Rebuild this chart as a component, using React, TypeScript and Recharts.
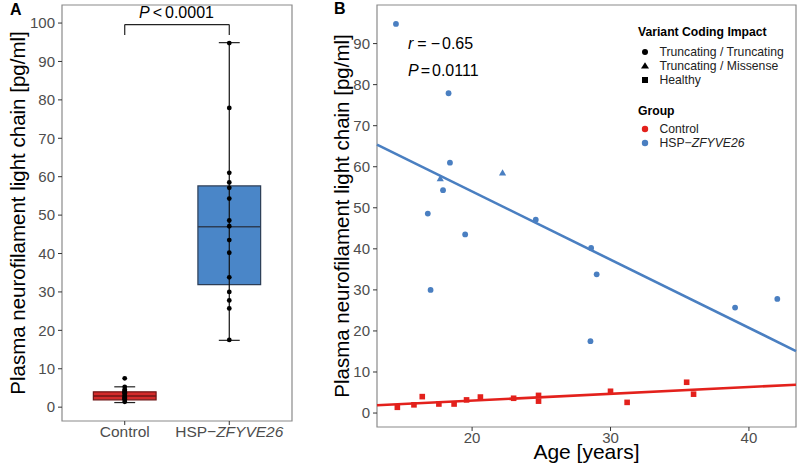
import {
  ComposedChart,
  Scatter,
  XAxis,
  YAxis,
  ReferenceArea,
  ReferenceLine,
} from 'recharts';

// panel A: box stats
const boxGroups = ['Control', 'HSP−ZFYVE26'];
const boxMin = [1.2, 17.4];
const boxQ1 = [1.9, 31.9];
const boxMedian = [2.9, 47.0];
const boxQ3 = [4.0, 57.6];
const boxMax = [5.3, 94.9];
const boxFill = ['#d42b2b', '#4a86c8'];
const boxStroke = ['#6e1717', '#2c3d55'];

// panel B: age vs NfL
const hspCircleAge = [14.5, 18.3, 18.4, 17.9, 16.8, 24.6, 19.5, 17.0, 28.6, 29.0, 28.55, 39.0, 42.05];
const hspCircleNfl = [94.8, 77.9, 61.0, 54.3, 48.6, 47.1, 43.5, 30.0, 40.2, 33.8, 17.5, 25.7, 27.8];
const hspTriangleAge = [17.7, 22.2];
const hspTriangleNfl = [57.1, 58.5];
const controlAge = [14.6, 15.8, 16.4, 17.6, 18.7, 19.6, 20.6, 23.0, 24.8, 24.8, 30.0, 31.2, 35.5, 36.0];
const controlNfl = [1.4, 2.0, 4.0, 2.2, 2.2, 3.2, 3.9, 3.6, 4.3, 2.9, 5.3, 2.6, 7.5, 4.6];

// fitted lines, endpoints at panel edges
const fitAges = [13.13, 43.4];
const hspFit = [65.4, 15.1];
const controlFit = [1.9, 6.9];

const yTicksA = [0, 10, 20, 30, 40, 50, 60, 70, 80, 90, 100];
const yTicksB = [0, 10, 20, 30, 40, 50, 60, 70, 80, 90];
const xTicksB = [20, 30, 40];

const FONT = '"Liberation Sans", Arial, Helvetica, sans-serif';
const RED = '#e3211c';
const BLUE = '#4a7fc1';
const GREY = '#4d4d4d';
const FRAME = '#8a8a8a';

const xDomA: [number, number] = [0.4, 2.6];
const yDomA: [number, number] = [-3.6, 104.7];
const xDomB: [number, number] = [13.13, 43.4];
const yDomB: [number, number] = [-3.4, 99.4];

const pointsA = [
  ...controlNfl.map((v) => ({ x: 1, y: v })),
  ...hspCircleNfl.concat(hspTriangleNfl).map((v) => ({ x: 2, y: v })),
];

const toPts = (xs: number[], ys: number[]) => xs.map((x, i) => ({ x, y: ys[i] }));

const Dot = (r: number, color?: string) => (p: any) => (
  <circle cx={p.cx} cy={p.cy} r={r} fill={color ?? p.fill} />
);
const Tri = (p: any) => {
  const s = 3.6;
  return (
    <polygon
      points={`${p.cx},${p.cy - s} ${p.cx - s},${p.cy + s * 0.75} ${p.cx + s},${p.cy + s * 0.75}`}
      fill={BLUE}
    />
  );
};
const Sq = (p: any) => <rect x={p.cx - 2.8} y={p.cy - 2.8} width={5.6} height={5.6} fill={RED} />;

function YTitle(baselineX: number) {
  return (props: any) => {
    const vb = props.viewBox;
    const cy = vb.y + vb.height / 2;
    return (
      <text
        x={baselineX}
        y={cy}
        transform={`rotate(-90, ${baselineX}, ${cy})`}
        textAnchor="middle"
        fontSize={20.5}
        fontFamily={FONT}
        fill="#000"
      >
        Plasma neurofilament light chain [pg/ml]
      </text>
    );
  };
}

const GroupTick = (p: any) => (
  <text x={p.x} y={p.y} dy="0.71em" textAnchor="middle" fontSize={15.5} fontFamily={FONT} fill={GREY}>
    {p.payload.value === 1 ? (
      boxGroups[0]
    ) : (
      <>
        <tspan>HSP−</tspan>
        <tspan fontStyle="italic">ZFYVE26</tspan>
      </>
    )}
  </text>
);

const tickStyle = { fontSize: 15, fontFamily: FONT, fill: GREY };

function PanelA() {
  return (
    <ComposedChart width={300} height={468} margin={{ top: 5, right: 8, bottom: 0, left: 0 }}>
      <XAxis
        type="number"
        dataKey="x"
        domain={xDomA}
        ticks={[1, 2]}
        allowDataOverflow
        height={47}
        tickSize={4}
        tickMargin={1}
        axisLine={false}
        tickLine={{ stroke: '#333' }}
        tick={GroupTick}
      />
      <YAxis
        type="number"
        dataKey="y"
        domain={yDomA}
        ticks={yTicksA}
        allowDataOverflow
        width={62}
        tickSize={4}
        tickMargin={3}
        axisLine={false}
        tickLine={{ stroke: '#333' }}
        tick={tickStyle}
        label={{ content: YTitle(25) }}
      />
      <ReferenceArea x1={xDomA[0]} x2={xDomA[1]} y1={yDomA[0]} y2={yDomA[1]} fill="none" stroke={FRAME} strokeWidth={1.2} />
      {boxGroups.map((g, i) => {
        const c = i + 1;
        return [
          <ReferenceArea key={g + 'box'} x1={c - 0.3} x2={c + 0.3} y1={boxQ1[i]} y2={boxQ3[i]} fill={boxFill[i]} fillOpacity={1} stroke={boxStroke[i]} strokeWidth={1.2} />,
          <ReferenceLine key={g + 'med'} segment={[{ x: c - 0.3, y: boxMedian[i] }, { x: c + 0.3, y: boxMedian[i] }]} stroke={boxStroke[i]} strokeWidth={1.5} />,
          <ReferenceLine key={g + 'wh'} segment={[{ x: c, y: boxMin[i] }, { x: c, y: boxMax[i] }]} stroke="#111" strokeWidth={1.2} />,
          <ReferenceLine key={g + 'cmax'} segment={[{ x: c - 0.1, y: boxMax[i] }, { x: c + 0.1, y: boxMax[i] }]} stroke="#222" strokeWidth={1.2} />,
          <ReferenceLine key={g + 'cmin'} segment={[{ x: c - 0.1, y: boxMin[i] }, { x: c + 0.1, y: boxMin[i] }]} stroke="#222" strokeWidth={1.2} />,
        ];
      })}
      {/* significance bracket */}
      <ReferenceLine segment={[{ x: 1, y: 99.6 }, { x: 2, y: 99.6 }]} stroke="#222" strokeWidth={1.2} />
      <ReferenceLine segment={[{ x: 1, y: 99.6 }, { x: 1, y: 96.9 }]} stroke="#222" strokeWidth={1.2} />
      <ReferenceLine segment={[{ x: 2, y: 99.6 }, { x: 2, y: 96.9 }]} stroke="#222" strokeWidth={1.2} />
      <Scatter data={pointsA} shape={Dot(2.4, '#000')} isAnimationActive={false} />
    </ComposedChart>
  );
}

function PanelB() {
  return (
    <ComposedChart width={497} height={468} margin={{ top: 5, right: 1, bottom: 0, left: 0 }}>
      <XAxis
        type="number"
        dataKey="x"
        domain={xDomB}
        ticks={xTicksB}
        allowDataOverflow
        height={41}
        tickSize={4}
        tickMargin={1}
        axisLine={false}
        tickLine={{ stroke: '#333' }}
        tick={tickStyle}
        label={{
          content: (p: any) => (
            <text
              x={p.viewBox.x + p.viewBox.width / 2}
              y={459}
              textAnchor="middle"
              fontSize={21}
              fontFamily={FONT}
              fill="#000"
            >
              Age [years]
            </text>
          ),
        }}
      />
      <YAxis
        type="number"
        dataKey="y"
        domain={yDomB}
        ticks={yTicksB}
        allowDataOverflow
        width={77}
        tickSize={4}
        tickMargin={3}
        axisLine={false}
        tickLine={{ stroke: '#333' }}
        tick={tickStyle}
        label={{ content: YTitle(49) }}
      />
      <ReferenceArea x1={xDomB[0]} x2={xDomB[1]} y1={yDomB[0]} y2={yDomB[1]} fill="none" stroke={FRAME} strokeWidth={1.2} />
      <ReferenceLine segment={[{ x: fitAges[0], y: hspFit[0] }, { x: fitAges[1], y: hspFit[1] }]} stroke={BLUE} strokeWidth={2.6} />
      <ReferenceLine segment={[{ x: fitAges[0], y: controlFit[0] }, { x: fitAges[1], y: controlFit[1] }]} stroke={RED} strokeWidth={2.6} />
      <Scatter data={toPts(hspCircleAge, hspCircleNfl)} shape={Dot(2.9, BLUE)} isAnimationActive={false} />
      <Scatter data={toPts(hspTriangleAge, hspTriangleNfl)} shape={Tri} isAnimationActive={false} />
      <Scatter data={toPts(controlAge, controlNfl)} shape={Sq} isAnimationActive={false} />
    </ComposedChart>
  );
}

const legendItem = (symbol: JSX.Element, label: any, top: number) => (
  <div style={{ position: 'absolute', left: 639, top: top - 8, height: 16, display: 'flex', alignItems: 'center', fontSize: 12.2, fontFamily: FONT, color: '#222' }}>
    <svg width={12} height={12} style={{ marginRight: 8.5 }}>{symbol}</svg>
    <span>{label}</span>
  </div>
);

const gap = (w: number) => <span style={{ display: 'inline-block', width: w }} />;

export default function App() {
  return (
    <div style={{ position: 'absolute', left: 0, top: 0, width: 797, height: 468, background: '#fff', overflow: 'hidden', fontFamily: FONT }}>
      <div style={{ position: 'absolute', left: 0, top: 0 }}>
        <PanelA />
      </div>
      <div style={{ position: 'absolute', left: 300, top: 0 }}>
        <PanelB />
      </div>
      <div style={{ position: 'absolute', left: 10, top: 1, fontSize: 16, fontWeight: 'bold', lineHeight: '18px' }}>A</div>
      <div style={{ position: 'absolute', left: 334, top: 0, fontSize: 16, fontWeight: 'bold', lineHeight: '18px' }}>B</div>
      <div style={{ position: 'absolute', left: 139, top: 4, fontSize: 16, lineHeight: '18px', whiteSpace: 'nowrap' }}>
        <i>P</i>{gap(3)}&lt;{gap(3)}0.0001
      </div>
      <div style={{ position: 'absolute', left: 408, top: 35, fontSize: 16, lineHeight: '18px', whiteSpace: 'nowrap' }}>
        <i>r</i>{gap(4)}={gap(4)}−{gap(2)}0.65
      </div>
      <div style={{ position: 'absolute', left: 408, top: 62, fontSize: 16, lineHeight: '18px', whiteSpace: 'nowrap' }}>
        <i>P</i>{gap(2)}={gap(2)}0.0111
      </div>
      <div style={{ position: 'absolute', left: 638, top: 25, fontSize: 12.2, fontWeight: 'bold', whiteSpace: 'nowrap' }}>Variant Coding Impact</div>
      {legendItem(<circle cx={6} cy={6} r={3} fill="#000" />, 'Truncating / Truncating', 52.3)}
      {legendItem(<polygon points="6,2.2 2,8.6 10,8.6" fill="#000" />, 'Truncating / Missense', 66)}
      {legendItem(<rect x={3} y={3} width={6} height={6} fill="#000" />, 'Healthy', 80)}
      <div style={{ position: 'absolute', left: 638, top: 104, fontSize: 12.2, fontWeight: 'bold', whiteSpace: 'nowrap' }}>Group</div>
      {legendItem(<circle cx={6} cy={6} r={3.2} fill={RED} />, 'Control', 129.3)}
      {legendItem(<circle cx={6} cy={6} r={3.2} fill={BLUE} />, <>HSP−<i>ZFYVE26</i></>, 143.3)}
    </div>
  );
}
